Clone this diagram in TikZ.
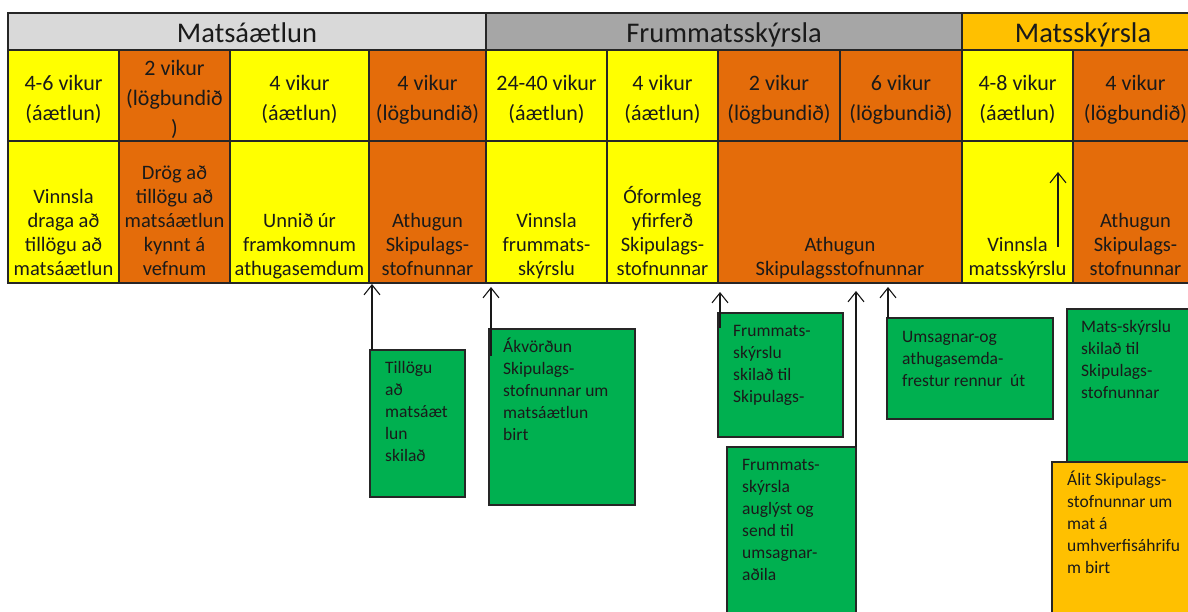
\documentclass[tikz,border=0pt]{standalone}
\usepackage{fontspec}
\setmainfont{Carlito}
\usetikzlibrary{arrows.meta,calc}
\definecolor{hdrA}{HTML}{D9D9D9}
\definecolor{hdrB}{HTML}{A6A6A6}
\definecolor{hdrC}{HTML}{FFC000}
\definecolor{yel}{HTML}{FFFF00}
\definecolor{ora}{HTML}{E46C0A}
\definecolor{grn}{HTML}{00B050}
\definecolor{gold}{HTML}{FFC000}
\definecolor{txt}{HTML}{1A1A1A}
\tikzset{
  cell/.style={draw=black!85, line width=1.2pt, inner sep=0pt, outer sep=0pt, anchor=north west, align=center, text=txt},
  hdrfont/.style={font=\fontsize{28.5}{34}\selectfont},
  rowtwo/.style={font=\fontsize{22}{30}\selectfont},
  rowthree/.style={anchor=south, align=center, inner sep=0pt, text=txt, font=\fontsize{20.5}{24}\selectfont},
  boxstyle/.style={draw=black!85, line width=1.2pt, inner sep=0pt, outer sep=0pt, anchor=north west},
  gtxt/.style={anchor=north west, align=left, inner sep=0pt, text=txt, font=\fontsize{17.5}{22}\selectfont},
  arr/.style={draw=black!90, line width=1.2pt, -{Straight Barb[length=10pt,width=16pt,line width=1.1pt]}}
}
\newcommand\mycell[8]{\node[cell,#8,fill=#6,minimum width={#4-#2},minimum height={#5-#3}] (#1) at (#2,#3) {#7};}
\newcommand\mybox[6]{\node[boxstyle,fill=#6,minimum width={#4-#2},minimum height={#5-#3}] (#1) at (#2,#3) {};}
\newcommand\up{\rule{0pt}{24pt}}
\newcommand\hup{\rule[-6pt]{0pt}{34pt}}
\begin{document}
\begin{tikzpicture}[x=1pt,y=-1pt]
\useasboundingbox (0,0) rectangle (1188,612);
\fill[white] (0,0) rectangle (1188,612);
\clip (0,0) rectangle (1188,612);
% header row
\mycell{hA}{8}{13}{486}{50}{hdrA}{\hup Matsáætlun}{hdrfont}
\mycell{hB}{486}{13}{962}{50}{hdrB}{\hup Frummatsskýrsla}{hdrfont}
\mycell{hC}{962}{13}{1204}{50}{hdrC}{\hup Matsskýrsla}{hdrfont}
% second row
\mycell{c1}{8}{50}{119}{141}{yel}{\up 4-6 vikur\\(áætlun)}{rowtwo}
\mycell{c2}{119}{50}{230}{141}{ora}{\up 2 vikur\\(lögbundið\\)}{rowtwo}
\mycell{c3}{230}{50}{369}{141}{yel}{\up 4 vikur\\(áætlun)}{rowtwo}
\mycell{c4}{369}{50}{486}{141}{ora}{\up 4 vikur\\(lögbundið)}{rowtwo}
\mycell{c5}{486}{50}{607}{141}{yel}{\up 24-40 vikur\\(áætlun)}{rowtwo}
\mycell{c6}{607}{50}{718}{141}{yel}{\up 4 vikur\\(áætlun)}{rowtwo}
\mycell{c7}{718}{50}{840}{141}{ora}{\up 2 vikur\\(lögbundið)}{rowtwo}
\mycell{c8}{840}{50}{962}{141}{ora}{\up 6 vikur\\(lögbundið)}{rowtwo}
\mycell{c9}{962}{50}{1073}{141}{yel}{\up 4-8 vikur\\(áætlun)}{rowtwo}
\mycell{c10}{1073}{50}{1198}{141}{ora}{\up 4 vikur\\(lögbundið)}{rowtwo}
% third row
\mycell{r1}{8}{141}{119}{283}{yel}{}{}
\mycell{r2}{119}{141}{230}{283}{ora}{}{}
\mycell{r3}{230}{141}{369}{283}{yel}{}{}
\mycell{r4}{369}{141}{486}{283}{ora}{}{}
\mycell{r5}{486}{141}{607}{283}{yel}{}{}
\mycell{r6}{607}{141}{718}{283}{yel}{}{}
\mycell{r7}{718}{141}{962}{283}{ora}{}{}
\mycell{r9}{962}{141}{1073}{283}{yel}{}{}
\mycell{r10}{1073}{141}{1198}{283}{ora}{}{}
\node[rowthree] (r1t) at ($(r1.south)+(0,-0.5)$) {Vinnsla\\draga að\\tillögu að\\matsáætlun\strut};
\node[rowthree] (r2t) at ($(r2.south)+(0,-0.5)$) {Drög að\\tillögu að\\matsáætlun\\kynnt á\\vefnum\strut};
\node[rowthree] (r3t) at ($(r3.south)+(0,-0.5)$) {Unnið úr\\framkomnum\\athugasemdum\strut};
\node[rowthree] (r4t) at ($(r4.south)+(0,-0.5)$) {Athugun\\Skipulags-\\stofnunnar\strut};
\node[rowthree] (r5t) at ($(r5.south)+(0,-0.5)$) {Vinnsla\\frummats-\\skýrslu\strut};
\node[rowthree] (r6t) at ($(r6.south)+(0,-0.5)$) {Óformleg\\yfirferð\\Skipulags-\\stofnunnar\strut};
\node[rowthree] (r7t) at ($(r7.south)+(0,-0.5)$) {Athugun\\Skipulagsstofnunnar\strut};
\node[rowthree] (r9t) at ($(r9.south)+(0,-0.5)$) {Vinnsla\\matsskýrslu\strut};
\node[rowthree] (r10t) at ($(r10.south)+(0,-0.5)$) {Athugun\\Skipulags-\\stofnunnar\strut};
% boxes
\mybox{g1}{370}{350}{465}{497}{grn}
\mybox{g2}{489}{329}{635}{505}{grn}
\mybox{g3}{718}{313}{843}{437}{grn}
\mybox{g4}{727}{447}{856}{640}{grn}
\mybox{g5}{887}{318}{1053}{419}{grn}
\mybox{g6}{1067}{309}{1200}{480}{grn}
\mybox{g7}{1052}{462}{1200}{640}{gold}
\node[gtxt] (g1t) at (385,357.6) {\strut Tillögu\\að\\matsáæt\\lun\\skilað};
\node[gtxt] (g2t) at (503,336.6) {\strut Ákvörðun\\Skipulags-\\stofnunnar um\\matsáætlun\\birt};
\node[gtxt] (g3t) at (733,320.6) {\strut Frummats-\\skýrslu\\skilað til\\Skipulags-};
\node[gtxt] (g4t) at (742,454.6) {\strut Frummats-\\skýrsla\\auglýst og\\send til\\umsagnar-\\aðila};
\node[gtxt] (g5t) at (902,326.6) {\strut Umsagnar-og\\athugasemda-\\frestur rennur\ \ út};
\node[gtxt] (g6t) at (1081,316.6) {\strut Mats-skýrslu\\skilað til\\Skipulags-\\stofnunnar};
\node[gtxt] (g7t) at (1067,469.6) {\strut Álit Skipulags-\\stofnunnar um\\mat á\\umhverfisáhrifu\\m birt};
% arrows
\coordinate (t1) at (372,284);
\coordinate (t2) at (491,287);
\coordinate (s2) at (491,356);
\coordinate (t3) at (720,292);
\coordinate (s3) at (720,328);
\coordinate (t4) at (856,291);
\coordinate (t5) at (888,287);
\coordinate (s6) at (1058,247);
\coordinate (t6) at (1058,172);
\draw[arr] (t1 |- g1.north) -- (t1);
\draw[arr] (s2) -- (t2);
\draw[arr] (s3) -- (t3);
\draw[arr] (g4.north east) -- (t4);
\draw[arr] (t5 |- g5.north) -- (t5);
\draw[arr] (s6) -- (t6);
\end{tikzpicture}
\end{document}
